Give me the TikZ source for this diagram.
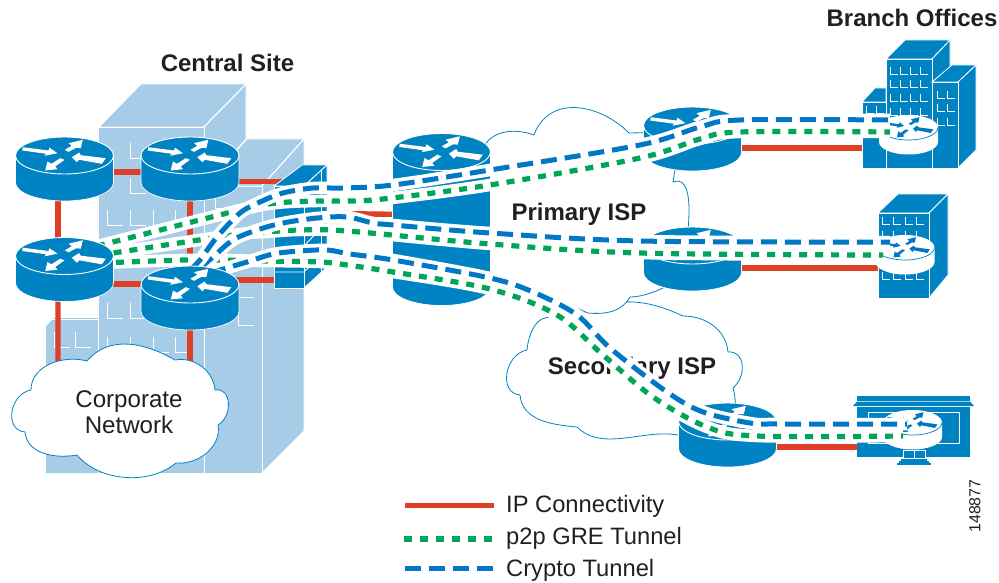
\documentclass[tikz,border=0pt]{standalone}
\usepackage{fontspec}
\setmainfont{Liberation Sans}
\usetikzlibrary{arrows.meta}
\definecolor{ciscoblue}{HTML}{0083C2}
\definecolor{lightbldg}{HTML}{A6CCE7}
\definecolor{linkred}{HTML}{DD3F27}
\definecolor{tungreen}{HTML}{00A55A}
\definecolor{tunblue}{HTML}{0078C6}
\definecolor{inktext}{HTML}{231F20}
\tikzset{
  redlink/.style={draw=linkred,line width=5.4bp},
  whitecase/.style={draw=white,line width=12.5bp},
  greentun/.style={draw=tungreen,line width=5.2bp,dash pattern=on 8bp off 8bp},
  bluetun/.style={draw=tunblue,line width=5bp,dash pattern=on 16bp off 8bp},
  cloudline/.style={draw=ciscoblue,fill=white,line width=0.8bp},
  edgeline/.style={draw=white,line width=0.9bp},
  windowline/.style={draw=white,line width=0.9bp},
  bfront/.style={fill=ciscoblue,draw=white,line width=0.8bp},
  lfront/.style={fill=lightbldg,draw=white,line width=0.9bp},
  headlabel/.style={font=\fontsize{24.1}{26}\selectfont\bfseries,text=inktext,inner sep=0pt},
  bodylabel/.style={font=\fontsize{24.2}{26.5}\selectfont,text=inktext,inner sep=0pt,align=center},
  legendlabel/.style={font=\fontsize{23.8}{26}\selectfont,text=inktext,inner sep=0pt,anchor=west},
}
\newcommand{\routerarrows}[1]{%
  \fill[#1] (-41.7,-8.3) -- (-16,-5) -- (-15,-7.7) -- (-7,-2.3) -- (-20,0.3) -- (-18.3,-1.7) -- (-42.3,-5) -- cycle;
  \fill[#1] (0.3,-5.7) -- (7.3,-9.7) -- (4,-12.3) -- (18.3,-15.7) -- (16.3,-7.3) -- (11.7,-7.7) -- (4,-3.7) -- cycle;
  \fill[#1] (41.3,2.7) -- (16.3,-0.3) -- (14.7,-3) -- (7.3,1.7) -- (12.3,6.7) -- (14.7,4.3) -- (37.3,8.3) -- cycle;
  \fill[#1] (-4.3,2.7) -- (-13,8.3) -- (-17,6) -- (-19.3,15) -- (-7,13.7) -- (-9.3,11) -- (0,4.3) -- cycle;}
\newcommand{\bigrouterbody}[2]{%
  \begin{scope}[shift={(#1)}]
    \filldraw[fill=ciscoblue,draw=white,line width=0.7bp] (-49,0) -- (-49,#2) arc[start angle=180,end angle=0,x radius=49,y radius=18.5] -- (49,0) -- cycle;
    \filldraw[fill=ciscoblue,draw=white,line width=0.9bp] (0,0) ellipse[x radius=49,y radius=18.5];
    \routerarrows{white}
  \end{scope}}
\newcommand{\smallrouter}[1]{%
  \begin{scope}[shift={(#1)}]
    \fill[white] (-29.5,0) -- (-29.5,14.5) arc[start angle=180,end angle=0,x radius=29.5,y radius=12.5] -- (29.5,0) -- cycle;
    \fill[white] (0,0) ellipse[x radius=29.5,y radius=12.5];
    \draw[ciscoblue,line width=0.7bp] (-29.5,0) arc[start angle=180,end angle=0,x radius=29.5,y radius=12.5];
    \begin{scope}[xscale=0.6,yscale=0.66]
      \routerarrows{tunblue}
    \end{scope}
  \end{scope}}
\newcommand{\winmark}[2]{\draw[windowline] (#1,#2) -- ++(0,15) -- ++(16,0);}
\newcommand{\winsmall}[2]{\draw[windowline] (#1,#2) -- ++(0,7.5) -- ++(8,0);}
\newcommand{\tunnelpair}[2]{%
  \draw[whitecase] plot[smooth,tension=0.55] coordinates {#1};
  \draw[#2] plot[smooth,tension=0.55] coordinates {#1};}
\begin{document}
\begin{tikzpicture}[x=1bp,y=-1bp]
\useasboundingbox (0,0) rectangle (999,583);
% ---------- coordinates
\coordinate (r1) at (64.5,155.5);
\coordinate (r2) at (190,155.5);
\coordinate (r3) at (64.5,256);
\coordinate (r4) at (190,284.5);
\coordinate (hub) at (441.5,152);
\coordinate (e1) at (692.5,125.5);
\coordinate (e2) at (692.5,245.5);
\coordinate (e3) at (727.5,421.5);
\coordinate (b1) at (908.5,127.5);
\coordinate (b2) at (905,247.5);
\coordinate (b3) at (912.5,422.5);
\coordinate (fw) at (290,200);
\coordinate (corp) at (120,400);
% ---------- central site building
\filldraw[lfront] (99,127) -- (141,84) -- (246,84) -- (204,127) -- cycle;
\filldraw[lfront] (204,127) -- (246,84) -- (246,139) -- (204,186) -- cycle;
\filldraw[lfront] (204,186) -- (247,139) -- (304,139) -- (262,186) -- cycle;
\filldraw[lfront] (262,186) -- (304,139) -- (304,431) -- (262,473) -- cycle;
\fill[lightbldg] (46,326) -- (54,318) -- (98,318) -- (98,473) -- (46,473) -- cycle;
\fill[lightbldg] (99,127) rectangle (204,473);
\fill[lightbldg] (205,186) rectangle (262,473);
\draw[edgeline] (99,127) -- (204,127) -- (204,473);
\draw[edgeline] (98,127) -- (98,473);
\draw[edgeline] (204,186) -- (262,186) -- (262,473);
\draw[edgeline] (46,319) -- (98,319);
\draw[edgeline] (204,127) -- (246,84);
\draw[edgeline] (262,186) -- (304,139);
\foreach \wx in {107,130,153,175} {\winmark{\wx}{210} \winmark{\wx}{337}}
\foreach \wx in {107,130} {\winmark{\wx}{303}}
\foreach \wy in {143,178} {\winmark{130}{\wy}}
\foreach \wy in {193,232} {\winmark{215}{\wy}}
\foreach \wy in {282,310} {\winmark{238}{\wy}}
\winmark{75}{332} \winmark{54}{332}
% ---------- red links, central site
\draw[redlink] ([xshift=-6.5bp]r1) -- ([xshift=-6.5bp]r3);
\draw[redlink] (r2) -- (r4);
\draw[redlink] (r1 |- 0,172) -- (r2 |- 0,172);
\draw[redlink] (r3 |- 0,284) -- (r4 |- 0,284);
\draw[redlink] (r2 |- 0,181.5) -- (fw |- 0,181.5);
\draw[redlink] (r4 |- 0,280) -- (fw |- 0,280);
\draw[redlink] ([xshift=-6.5bp]r3) -- (58,400);
\draw[redlink] (r4) -- (r4 |- corp);
% ---------- corporate network cloud
\draw[cloudline] (31,390) to[out=90,in=165,looseness=1.0] (87,361)
  to[out=50,in=150,looseness=1.0] (175,360)
  to[out=10,in=95,looseness=1.0] (215,390)
  to[out=10,in=30,looseness=1.25] (218,425)
  to[out=-80,in=-5,looseness=1.0] (176,463)
  to[out=-140,in=-50,looseness=0.9] (77,455)
  to[out=-170,in=-85,looseness=1.0] (25,432)
  to[out=175,in=190,looseness=1.3] (31,390) -- cycle;
\node[bodylabel] (corplabel) at (129,412) {Corporate\\Network};
% ---------- firewall box
\filldraw[bfront] (274,186) -- (302,165) -- (327,165) -- (304,186) -- cycle;
\filldraw[bfront] (304,186) -- (327,165) -- (327,267) -- (304,288) -- cycle;
\filldraw[bfront] (274,186) rectangle (304,288);
\draw[edgeline] (274,272) -- (304,272) -- (327,250);
\draw[edgeline] (305,245) -- (321,228);
\draw[edgeline] (321,171) -- (321,272);
% ---------- ISP clouds
\draw[cloudline] (527,350) to[out=85,in=165,looseness=1] (552,318)
  -- (582,313)
  to[out=25,in=155,looseness=1] (683,316)
  to[out=0,in=95,looseness=1] (728,352)
  to[out=5,in=40,looseness=1.25] (733,388)
  to[out=-70,in=90,looseness=.6] (736,420)
  -- (678,435)
  to[out=170,in=-45,looseness=0.9] (577,427)
  to[out=175,in=-85,looseness=1] (520,395)
  to[out=175,in=190,looseness=1.25] (527,350) -- cycle;
\draw[cloudline] (470,160) -- (487,142)
  to[out=50,in=160,looseness=.9] (534,135)
  to[out=70,in=135,looseness=1.15] (629,133)
  -- (680,132) -- (675,170) -- (673,182)
  to[out=20,in=85,looseness=1] (688,230)
  -- (663,288)
  to[out=-155,in=0,looseness=.8] (630,297)
  to[out=-120,in=-5,looseness=1] (588,313)
  -- (570,305) -- (480,280) -- cycle;
% ---------- other red links
\draw[redlink] (335,213.5) -- (hub |- 0,215);
\draw[redlink] (e1 |- 0,148) -- (b1 |- 0,148);
\draw[redlink] (e2 |- 0,268) -- (b2 |- 0,268);
\draw[redlink] (e3 |- 0,447) -- (b3 |- 0,447);
% ---------- branch buildings
\filldraw[bfront] (886,59) -- (905,40) -- (950,40) -- (932,59) -- cycle;
\filldraw[bfront] (932,59) -- (950,40) -- (950,110) -- (932,110) -- cycle;
\filldraw[bfront] (862,102) -- (875,88) -- (886,88) -- (886,102) -- cycle;
\filldraw[bfront] (862,102) rectangle (886,168);
\filldraw[bfront] (886,59) rectangle (932,168);
\filldraw[bfront] (932,82) -- (952,65) -- (976,65) -- (958,82) -- cycle;
\filldraw[bfront] (958,82) -- (976,65) -- (976,150) -- (958,168) -- cycle;
\filldraw[bfront] (932,82) rectangle (958,168);
\foreach \wx in {890,900,910,920} \foreach \wy in {67,80,94,108,122} {\winsmall{\wx}{\wy}}
\foreach \wx in {937,947} \foreach \wy in {91,104,118} {\winsmall{\wx}{\wy}}
\foreach \wx in {866,876} {\winsmall{\wx}{106}}
\filldraw[bfront] (878,213) -- (898,194) -- (948,194) -- (929,213) -- cycle;
\filldraw[bfront] (929,213) -- (948,194) -- (948,275) -- (929,298) -- cycle;
\filldraw[bfront] (878,213) rectangle (929,298);
\foreach \wx in {882,893,905,916} \foreach \wy in {217,231,272} {\winsmall{\wx}{\wy}}
\fill[ciscoblue] (857,396) rectangle (970,401);
\fill[ciscoblue] (857,401.5) -- (970,401.5) -- (974,406) -- (853,406) -- cycle;
\fill[ciscoblue] (857,406.5) rectangle (970,457);
\draw[edgeline] (868,412) rectangle (959,443);
\filldraw[fill=ciscoblue,draw=white,line width=0.6bp] (903,450) rectangle (925,458);
\draw[white,line width=0.6bp] (914,451) -- (914,458);
\fill[ciscoblue] (901,458.5) rectangle (927,460.5);
\fill[ciscoblue] (899,461) rectangle (929,462.5);
\fill[ciscoblue] (897,463) rectangle (931,464.5);
% ---------- routers below the tunnels
\bigrouterbody{hub}{135}
\bigrouterbody{e1}{27}
\bigrouterbody{e2}{27}
\bigrouterbody{e3}{27}
\smallrouter{b1}
\smallrouter{b2}
\smallrouter{b3}
\bigrouterbody{r1}{27}
\bigrouterbody{r2}{27}
% ---------- labels under tunnels
\node[headlabel] (lprimary) at (579,214) {Primary ISP};
\node[headlabel] (lsecondary) at (632,368) {Secondary ISP};
% ---------- tunnels
\coordinate (g1a) at (100,245); \coordinate (g2a) at (100,255); \coordinate (g3a) at (100,263);
\coordinate (u1a) at (190,270); \coordinate (u2a) at (200,268); \coordinate (u3a) at (210,273);
\coordinate (g1z) at (890,132); \coordinate (g2z) at (883,255); \coordinate (g3z) at (903,436);
\coordinate (u1z) at (890,120); \coordinate (u2z) at (890,242); \coordinate (u3z) at (907,424);
\tunnelpair{(g3a) (183,260) (220,260) (267,261) (320,262) (347,265) (393,272) (490,289) (557,315) (603,355) (653,397) (707,427) (757,436) (g3z)}{greentun}
\tunnelpair{(u3a) (220,270) (247,262) (273,254) (300,251) (327,250) (350,254) (393,260) (490,278) (533,292) (577,315) (610,348) (667,392) (703,412) (750,423) (777,424) (u3z)}{bluetun}
\tunnelpair{(g2a) (113,253) (233,235) (267,232) (300,230) (347,231) (490,244) (640,253) (g2z)}{greentun}
\tunnelpair{(u2a) (213,257) (233,240) (257,230) (283,223) (317,218) (347,217) (373,223) (393,225) (490,233) (640,241) (u2z)}{bluetun}
\tunnelpair{(g1a) (113,242) (240,210) (277,203) (317,201) (347,201) (383,199) (490,185) (640,158) (700,139) (740,132) (g1z)}{greentun}
\tunnelpair{(u1a) (200,260) (217,237) (240,213) (260,202) (283,193) (313,188) (343,188) (393,185) (490,170) (640,145) (700,127) (740,120) (u1z)}{bluetun}
% ---------- routers above the tunnels
\bigrouterbody{r3}{27}
\bigrouterbody{r4}{27}
% ---------- headings
\node[headlabel] (lcentral) at (227.5,62.5) {Central Site};
\node[headlabel] (lbranch) at (912,18) {Branch Offices};
% ---------- legend
\coordinate (k1a) at (405,505.5); \coordinate (k1z) at (494,505.5);
\coordinate (k2a) at (404,539); \coordinate (k2z) at (494,539);
\coordinate (k3a) at (405,568); \coordinate (k3z) at (494,568);
\draw[redlink] (k1a) -- (k1z);
\draw[greentun] (k2a) -- (k2z);
\draw[bluetun] (k3a) -- (k3z);
\node[legendlabel] (t1) at (506,506) {IP Connectivity};
\node[legendlabel] (t2) at (506,538) {p2p GRE Tunnel};
\node[legendlabel] (t3) at (506,570) {Crypto Tunnel};
\node[font=\fontsize{16}{17}\selectfont,text=inktext,rotate=90,inner sep=0pt] (tag) at (975,506) {148877};
\end{tikzpicture}
\end{document}
